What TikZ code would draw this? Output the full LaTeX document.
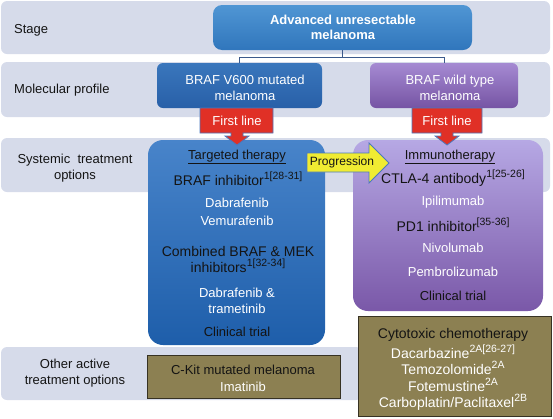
\documentclass[tikz,border=0pt]{standalone}
\usepackage{fontspec}
\setmainfont{Liberation Sans}
\definecolor{band}{RGB}{214,219,234}
\definecolor{redc}{RGB}{224,48,38}
\definecolor{yel}{RGB}{240,236,50}
\definecolor{edgeblue}{RGB}{75,120,190}
\definecolor{olive}{RGB}{140,128,82}
\definecolor{olivedge}{RGB}{55,50,35}
\definecolor{linkc}{RGB}{60,90,140}
\definecolor{txt}{RGB}{20,20,20}
\newcommand\sups[1]{\raisebox{0.4em}{\fontsize{10.5}{10.5}\selectfont #1}}
\tikzset{
  bandbox/.style={fill=band, draw=none, rounded corners=6pt},
  lab/.style={font=\fontsize{13}{16}\selectfont, text=txt, align=center, inner sep=0pt},
  wtx/.style={font=\fontsize{13}{16}\selectfont, text=white, align=center, inner sep=0pt},
  btx/.style={font=\fontsize{14}{16}\selectfont, text=txt, align=center, inner sep=0pt},
  hbtx/.style={font=\fontsize{13}{16}\selectfont, text=txt, align=center, inner sep=0pt},
  olivebox/.style={fill=olive, draw=olivedge, line width=1pt},
  callout/.style={fill=redc, draw=edgeblue, line width=0.8pt},
}
\begin{document}
\begin{tikzpicture}[x=1pt,y=-1pt]
\useasboundingbox (0,0) rectangle (553,418);
% bands
\fill[bandbox] (1,1) rectangle (550,54);
\fill[bandbox] (1,62) rectangle (550,117);
\fill[bandbox] (1,138) rectangle (550,192);
\fill[bandbox] (1,347) rectangle (362,400);
% band labels
\node[lab, anchor=west] (lstage) at (14,30) {Stage};
\node[lab, anchor=west] (lmol) at (14,90) {Molecular profile};
\node[lab] (lsys) at (75,168) {Systemic\ \ treatment\\options};
\node[lab] (loth) at (75,373) {Other active\\treatment options};
% top box
\node[rounded corners=9pt, top color={rgb,255:red,80;green,150;blue,212}, bottom color={rgb,255:red,48;green,118;blue,188},
      minimum width=259pt, minimum height=45pt, inner sep=0pt] (top) at (342.5,27.5) {};
\node[wtx, font=\fontsize{13}{15.5}\selectfont\bfseries] (toptxt) at (343,27.5) {Advanced unresectable\\melanoma};
% molecular boxes
\node[rounded corners=6pt, top color={rgb,255:red,58;green,118;blue,188}, bottom color={rgb,255:red,40;green,96;blue,168},
      minimum width=165pt, minimum height=45pt, inner sep=0pt] (v600) at (239.5,85.5) {};
\node[wtx, font=\fontsize{13}{16}\selectfont] (v600txt) at (245,88) {BRAF V600 mutated\\melanoma};
\node[rounded corners=6pt, top color={rgb,255:red,165;green,138;blue,210}, bottom color={rgb,255:red,118;green,84;blue,164},
      minimum width=148pt, minimum height=45pt, inner sep=0pt] (wt) at (444,85.5) {};
\node[wtx, font=\fontsize{13}{16}\selectfont] (wttxt) at (450,88) {BRAF wild type\\melanoma};
% connectors
\draw[linkc, line width=0.8pt] (top.south) -- ++(0,7) coordinate (split) -| (v600.north);
\draw[linkc, line width=0.8pt] (split) -| (wt.north);
% treatment boxes
\node[rounded corners=15pt, top color={rgb,255:red,72;green,132;blue,202}, bottom color={rgb,255:red,30;green,94;blue,170},
      minimum width=177pt, minimum height=205pt, inner sep=0pt] (targ) at (236.5,242.5) {};
\node[rounded corners=15pt, top color={rgb,255:red,182;green,168;blue,228}, bottom color={rgb,255:red,122;green,88;blue,168},
      minimum width=190pt, minimum height=171pt, inner sep=0pt] (immu) at (448,225.5) {};
% callouts
\fill[callout] (200,108) -- (273,108) -- (273,133) -- (243,133) -- (243,136) -- (249,136) -- (237,145) -- (225,136) -- (231,136) -- (231,133) -- (200,133) -- cycle;
\node[wtx] (fl1) at (237,121) {First line};
\fill[callout] (412,108) -- (482,108) -- (482,133) -- (453,133) -- (453,136) -- (459,136) -- (447,145) -- (435,136) -- (441,136) -- (441,133) -- (412,133) -- cycle;
\node[wtx] (fl2) at (447,121) {First line};
% progression arrow
\filldraw[fill=yel, draw=edgeblue, line width=0.8pt] (307,153) -- (369,153) -- (369,143) -- (389,163) -- (369,183) -- (369,172) -- (307,172) -- cycle;
\node[lab, font=\fontsize{12}{14}\selectfont] (prog) at (342,162) {Progression};
% targeted therapy text
\node[hbtx] (t1) at (237,157) {\underline{Targeted therapy}};
\node[btx] (t2) at (238,179) {BRAF inhibitor\sups{1[28-31]}};
\node[wtx] (t3) at (237,203) {Dabrafenib};
\node[wtx] (t4) at (237,221) {Vemurafenib};
\node[btx] (t5) at (238,259) {Combined BRAF \& MEK\\inhibitors\sups{1[32-34]}};
\node[wtx] (t6) at (237,300.5) {Dabrafenib \&\\trametinib};
\node[hbtx] (t7) at (237,332) {Clinical trial};
% immunotherapy text
\node[hbtx] (i1) at (450,157) {\underline{Immunotherapy}};
\node[btx] (i2) at (453,178) {CTLA-4 antibody\sups{1[25-26]}};
\node[wtx] (i3) at (453,202) {Ipilimumab};
\node[btx] (i4) at (453,225) {PD1 inhibitor\sups{[35-36]}};
\node[wtx] (i5) at (453,248) {Nivolumab};
\node[wtx] (i6) at (453,272) {Pembrolizumab};
\node[hbtx] (i7) at (453,296) {Clinical trial};
% other options
\node[olivebox, minimum width=193pt, minimum height=43pt, inner sep=0pt] (ckit) at (243.5,376.5) {};
\node[hbtx] (ck1) at (243,370) {C-Kit mutated melanoma};
\node[wtx] (ck2) at (243,387) {Imatinib};
\node[olivebox, minimum width=193pt, minimum height=100pt, inner sep=0pt] (chemo) at (455,366.5) {};
\node[btx] (c1) at (453,335) {Cytotoxic chemotherapy};
\node[wtx, font=\fontsize{14}{16}\selectfont] (c2) at (453,352) {Dacarbazine\sups{2A[26-27]}};
\node[wtx, font=\fontsize{14}{16}\selectfont] (c3) at (453,368) {Temozolomide\sups{2A}};
\node[wtx, font=\fontsize{14}{16}\selectfont] (c4) at (453,385) {Fotemustine\sups{2A}};
\node[wtx, font=\fontsize{14}{16}\selectfont] (c5) at (453,402) {Carboplatin/Paclitaxel\sups{2B}};
\end{tikzpicture}
\end{document}
